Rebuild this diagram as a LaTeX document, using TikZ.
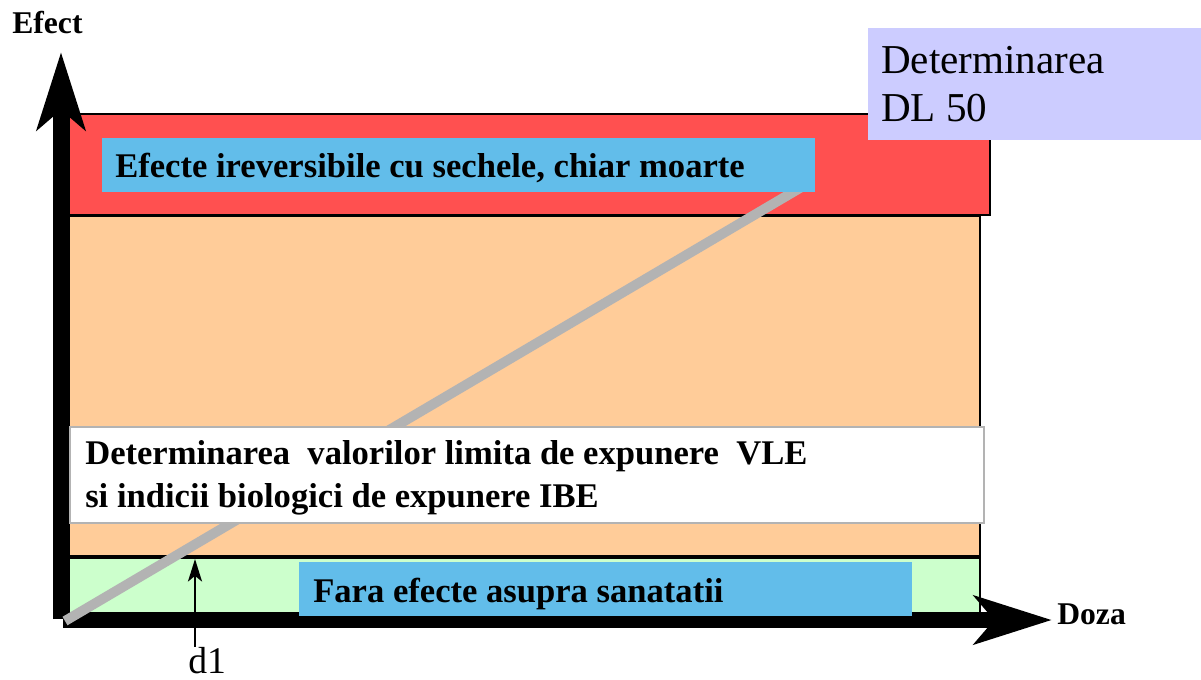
\documentclass[tikz,border=0pt]{standalone}
\usepackage{fontspec}
\setmainfont{Liberation Serif}
\usetikzlibrary{arrows.meta}
\definecolor{zonered}{HTML}{FF5050}
\definecolor{zonepeach}{HTML}{FFCC99}
\definecolor{zonegreen}{HTML}{CCFFCC}
\definecolor{labelblue}{HTML}{62BDEA}
\definecolor{dlviolet}{HTML}{CCCCFF}
\definecolor{curvegray}{HTML}{B3B3B3}
\begin{document}
\begin{tikzpicture}[x=0.025cm,y=-0.025cm,
  axis/.style={line width=11pt,-{Stealth[length=55pt,width=34pt,inset=14pt]}},
  bluetext/.style={anchor=base west,inner sep=0pt,font=\fontsize{24.6}{30}\bfseries},
  axislabel/.style={anchor=base west,inner sep=0pt,font=\fontsize{22.5}{26}\bfseries}]
\useasboundingbox (0,0) rectangle (1201,679);
% zones
\draw[line width=1.5pt,fill=zonered] (69,114) rectangle (990,215);
\draw[line width=1.2pt,fill=zonepeach] (69,216) rectangle (980,556);
\draw[line width=1.2pt,fill=zonegreen] (69,557) rectangle (980,614);
\draw[line width=3pt] (69,557) -- (980,557);
% axes
\coordinate (origin) at (61,619);
\coordinate (ytip) at (61,52);
\coordinate (xtip) at (1052,620);
\draw[axis] (origin) -- (ytip);
\draw[axis] (63,620) -- (xtip);
\node[axislabel] at (12,33) (efect) {Efect};
\node[axislabel] at (1057,624) (doza) {Doza};
% dose-effect line
\coordinate (c0) at (65,621);
\coordinate (c1) at (800,188);
\draw[curvegray,line width=7pt] (c0) -- (c1);
% label boxes
\draw[curvegray,line width=1.5pt,fill=white] (70,427) rectangle (984,523);
\fill[labelblue] (102,138) rectangle (815,192);
\fill[labelblue] (299,562) rectangle (912,616);
\fill[dlviolet] (868,28) rectangle (1201,140);
\node[bluetext] at (115,177) (irev) {Efecte ireversibile cu sechele, chiar moarte};
\node[bluetext] at (313,602) (fara) {Fara efecte asupra sanatatii};
\node[anchor=base west,inner sep=0pt,align=left,font=\fontsize{24.6}{30}\bfseries] at (85,507) (vle)
  {Determinarea\ \ valorilor limita de expunere\ \ VLE\\si indicii biologici de expunere IBE};
\node[anchor=base west,inner sep=0pt,align=left,font=\fontsize{29.2}{34}\selectfont] at (881,121) (dl)
  {Determinarea\\DL 50};
% threshold d1
\node[anchor=base west,inner sep=0pt,font=\fontsize{26.8}{30}\selectfont] at (188,673) (d1) {d1};
\coordinate (d1tip) at (195,559);
\draw[line width=1.5pt,-{Stealth[length=16pt,width=10pt,inset=4pt]}] (d1.north -| d1tip) -- (d1tip);
\end{tikzpicture}
\end{document}
